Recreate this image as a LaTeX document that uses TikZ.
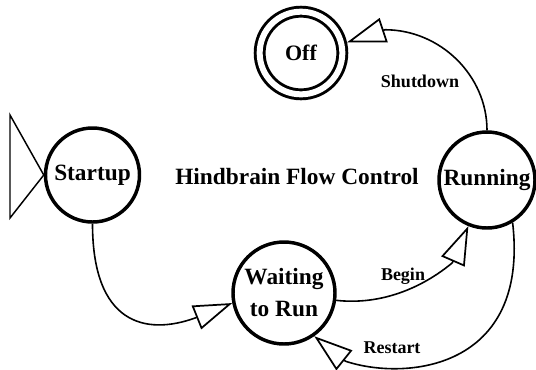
\documentclass[tikz,border=0pt]{standalone}
\usepackage{fontspec}
\setmainfont{Liberation Serif}
\usetikzlibrary{arrows.meta,calc}
\begin{document}
\begin{tikzpicture}[x=0.75pt,y=-0.75pt,
  state/.style={circle, draw, line width=2.6pt, inner sep=0pt, align=center,
    font=\bfseries\fontsize{17.5}{24}\selectfont},
  lbl/.style={font=\bfseries\fontsize{13.5}{16}\selectfont, inner sep=0pt},
  trans/.style={line width=1.2pt,
    -{Triangle[open, length=29pt, width=19pt, line width=1.3pt]}},
]
\fill[white] (0,0) rectangle (536,369);
\useasboundingbox (0,0) rectangle (536,369);

% states
\node[state, minimum size=70.5pt] (startup) at (92.5,175) {Startup};
\node[state, minimum size=76.5pt] (wait) at (284,293) {Waiting\\to Run};
\node[state, minimum size=72pt] (run) at (487,180) {Running};
\node[circle, draw, line width=2.2pt, double, double distance=4.5pt,
  minimum size=62pt, inner sep=0pt, outer sep=4.45pt,
  font=\bfseries\fontsize{16.5}{18}\selectfont] (off) at (301,53) {Off};

% title
\node[font=\bfseries\fontsize{17.5}{21}\selectfont, inner sep=0pt] (title)
  at (297,177) {Hindbrain Flow Control};

% initial-state marker
\coordinate (s1) at (10,115);
\coordinate (s2) at (10,218);
\draw[line width=1.1pt, line join=miter] (s1) -- (startup.west) -- (s2) -- cycle;

% back ends of the arrow heads (each one head length behind its tip)
\coordinate (b1) at ($(wait.191)+(201.9:30pt)$);
\coordinate (b2) at ($(run.248)+(246.4:30pt)$);
\coordinate (b3) at ($(wait.-55)+(321.3:30pt)$);
\coordinate (b4) at ($(off.13)+(18.4:30pt)$);

% transitions
\draw[trans] (startup.south) .. controls +(0,100) and +(-50,18) .. (b1) -- (wait.191);
\draw[trans] (wait.-8) .. controls +(45,5) and +(-30,25) .. (b2) -- (run.248);
\draw[trans] (run.-59) .. controls +(17,147) and +(60,20) .. (b3) -- (wait.-55);
\draw[trans] (run.north) .. controls +(0,-55) and +(55,0) .. (b4) -- (off.13);

% transition labels
\node[lbl] (begin) at (403,276) {Begin};
\node[lbl] (restart) at (392,348) {Restart};
\node[lbl] (shutdown) at (420,81) {Shutdown};
\end{tikzpicture}
\end{document}
